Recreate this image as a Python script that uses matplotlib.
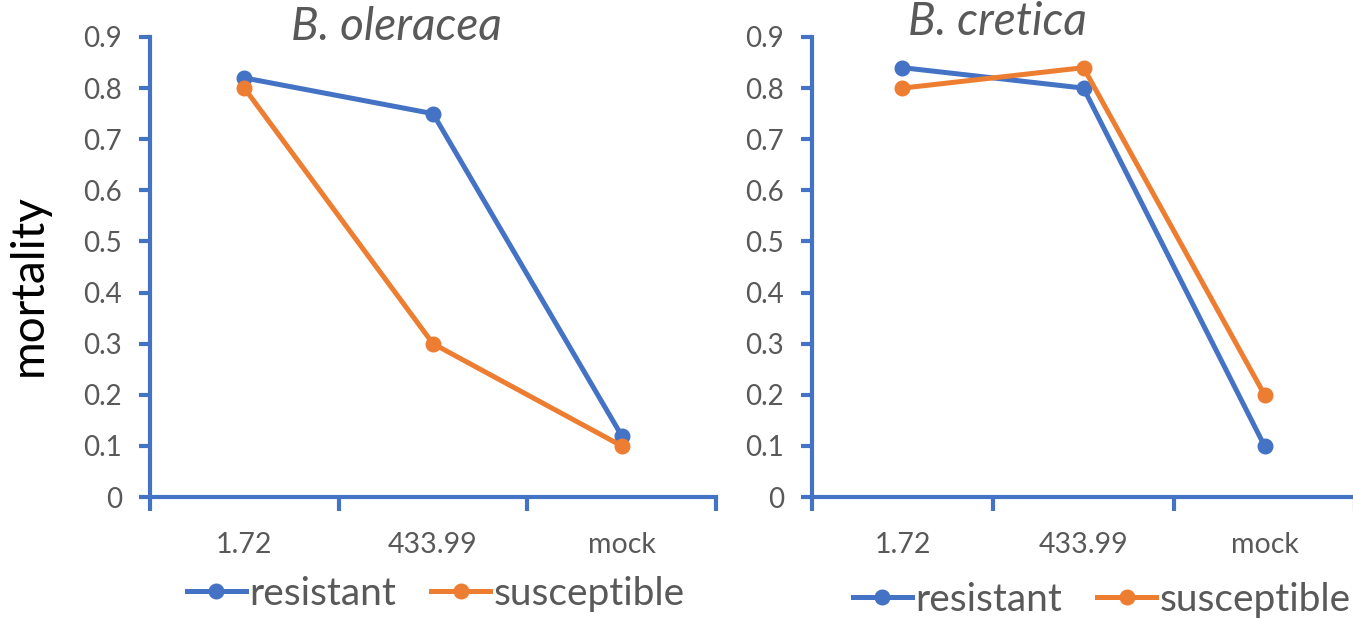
import matplotlib
matplotlib.use("Agg")
import matplotlib.pyplot as plt
from matplotlib.lines import Line2D

categories = ["1.72", "433.99", "mock"]
oleracea_resistant = [0.82, 0.75, 0.12]
oleracea_susceptible = [0.80, 0.30, 0.10]
cretica_resistant = [0.84, 0.80, 0.10]
cretica_susceptible = [0.80, 0.84, 0.20]
yticks = [0, 0.1, 0.2, 0.3, 0.4, 0.5, 0.6, 0.7, 0.8, 0.9]
ytick_labels = ["0", "0.1", "0.2", "0.3", "0.4", "0.5", "0.6", "0.7", "0.8", "0.9"]

BLUE = "#4472C4"
ORANGE = "#ED7D31"
GRAY = "#595959"
FONT = ["Lato", "DejaVu Sans"]
plt.rcParams["font.family"] = FONT

W, H = 1353, 619
fig = plt.figure(figsize=(W / 100, H / 100), dpi=100)

LW = 3.6
MS = 10.5

def px_axes(x0, x1, ytop, ybot):
    return fig.add_axes([x0 / W, 1 - ybot / H, (x1 - x0) / W, (ybot - ytop) / H])

def style(ax, res, sus):
    x = range(len(categories))
    ax.plot(x, res, color=BLUE, lw=LW, marker="o", ms=MS, solid_capstyle="round", zorder=3, clip_on=False)
    ax.plot(x, sus, color=ORANGE, lw=LW, marker="o", ms=MS, solid_capstyle="round", zorder=4, clip_on=False)
    ax.set_xlim(-0.5, 2.5)
    ax.set_ylim(0, 0.9)
    ax.set_yticks(yticks)
    ax.set_yticklabels(ytick_labels)
    ax.set_xticks([-0.5, 0.5, 1.5, 2.5])
    ax.set_xticklabels([])
    ax.set_xticks(range(len(categories)), labels=categories, minor=True)
    ax.tick_params(axis="x", which="minor", length=0, pad=25, labelsize=20.5, labelcolor=GRAY)
    ax.tick_params(axis="x", which="major", length=10, width=3, color=BLUE, direction="out")
    ax.tick_params(axis="y", length=8, width=3, color=BLUE, direction="out", pad=12,
                   labelsize=20, labelcolor=GRAY)
    for s in ["top", "right"]:
        ax.spines[s].set_visible(False)
    for s in ["left", "bottom"]:
        ax.spines[s].set_color(BLUE)
        ax.spines[s].set_linewidth(3)
    ax.set_facecolor("none")

ax1 = px_axes(150, 716, 37, 497)
style(ax1, oleracea_resistant, oleracea_susceptible)
ax1.set_ylabel("mortality", fontsize=33, color="black")
ax1.yaxis.set_label_coords(-0.178, 0.46)

ax2 = px_axes(812, 1355, 37, 497)
style(ax2, cretica_resistant, cretica_susceptible)

fig.text(396 / W, 1 - 27 / H, "B. oleracea", ha="center", va="center",
         fontsize=33, style="italic", color=GRAY)
fig.text(997 / W, 1 - 22 / H, "B. cretica", ha="center", va="center",
         fontsize=33, style="italic", color=GRAY)

handles = [Line2D([], [], color=BLUE, lw=LW, marker="o", ms=MS),
           Line2D([], [], color=ORANGE, lw=LW, marker="o", ms=MS)]
labels = ["resistant", "susceptible"]
for cx, cy in [(436, 594), (1102, 600)]:
    leg = fig.legend(handles, labels, loc="center", bbox_to_anchor=(cx / W, 1 - cy / H),
                     ncol=2, frameon=False, fontsize=28, handlelength=1.5,
                     handletextpad=0.1, columnspacing=0.9, borderaxespad=0,
                     borderpad=0)
    for t in leg.get_texts():
        t.set_color(GRAY)

fig.savefig("out.png", dpi=100, facecolor="white")
